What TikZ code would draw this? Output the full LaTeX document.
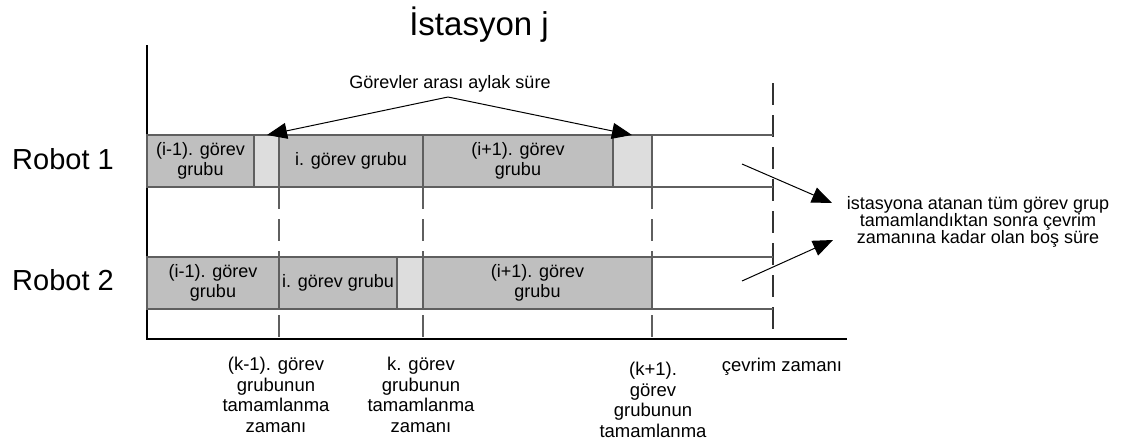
\documentclass[tikz,border=0pt]{standalone}
\usepackage{fontspec}
\setmainfont{Liberation Sans}
\usetikzlibrary{arrows.meta,positioning}

\definecolor{taskgray}{RGB}{191,191,191}
\definecolor{idlegray}{RGB}{221,221,221}
\definecolor{edgegray}{RGB}{95,95,95}

\tikzset{
  box/.style={draw=edgegray, line width=1.2pt, minimum height=52pt,
    inner sep=0pt, outer sep=0pt, align=center,
    font=\fontsize{18}{20}\selectfont},
  task/.style={box, fill=taskgray},
  slack/.style={box, fill=idlegray},
  note/.style={align=center, inner sep=0pt, font=\fontsize{18.5}{20.5}\selectfont},
  pointer/.style={-{Triangle[length=20pt,width=16pt]}, line width=1pt},
  timeline/.style={line width=1.2pt, dash pattern=on 22pt off 10pt}
}

\begin{document}
\begin{tikzpicture}[x=1pt,y=-1pt]

\useasboundingbox (0,0) rectangle (1127,445);

\coordinate(origin) at (147,339);
\coordinate(ytop) at (147,45);
\coordinate(xend) at (847,339);

\draw[line width=1.3pt] (ytop) to (origin) to (xend);

\coordinate(Ka) at (279,187);
\coordinate(Kb) at (423,187);
\coordinate(Kc) at (652,187);
\coordinate(Ca) at (773,83);

\draw[timeline, edgegray] (Ka) to (Ka |- origin);
\draw[timeline, edgegray] (Kb) to (Kb |- origin);
\draw[timeline, edgegray] (Kc) to (Kc |- origin);
\draw[timeline, black!80] (Ca) to (Ca |- origin);

\draw[edgegray, line width=1.2pt] (147,135) to (773,135);
\draw[edgegray, line width=1.2pt] (147,187) to (773,187);
\draw[edgegray, line width=1.2pt] (147,257) to (773,257);
\draw[edgegray, line width=1.2pt] (147,309) to (773,309);

\node[task, minimum width=107pt, anchor=north west] (Aa) at (147,135) {(i-1). görev\\grubu};
\node[slack, minimum width=25pt, right=0pt of Aa] (Ab) {};
\node[task, minimum width=144pt, right=0pt of Ab] (Ac) {i. görev grubu};
\node[task, minimum width=190pt, right=0pt of Ac] (Ad) {(i+1). görev\\grubu};
\node[slack, minimum width=39pt, right=0pt of Ad] (Ae) {};

\node[task, minimum width=132pt, anchor=north west] (Ba) at (147,257) {(i-1). görev\\grubu};
\node[task, minimum width=118pt, right=0pt of Ba] (Bb) {i. görev grubu};
\node[slack, minimum width=26pt, right=0pt of Bb] (Bc) {};
\node[task, minimum width=229pt, right=0pt of Bc] (Bd) {(i+1). görev\\grubu};

\node[anchor=base, inner sep=0pt, font=\fontsize{33}{36}\selectfont] (title) at (479,35) {İstasyon j};
\node[anchor=base west, inner sep=0pt, font=\fontsize{29}{32}\selectfont] (robotA) at (12,169) {Robot 1};
\node[anchor=base west, inner sep=0pt, font=\fontsize{29}{32}\selectfont] (robotB) at (12,290) {Robot 2};

\node[anchor=base, inner sep=0pt, font=\fontsize{18}{20}\selectfont] (slacknote) at (450,88) {Görevler arası aylak süre};
\coordinate(apex) at (448,97);
\coordinate(slackA) at (267,135);
\coordinate(slackB) at (632,135);
\draw[pointer] (apex) to (slackA);
\draw[pointer] (apex) to (slackB);

\node[note, font=\fontsize{18}{17}\selectfont] (endnote) at (978,222)
  {istasyona atanan tüm görev grup\\tamamlandıktan sonra çevrim\\zamanına kadar olan boş süre};
\coordinate(freeA) at (742,164);
\coordinate(freeB) at (742,281);
\coordinate(tipA) at (832,203);
\coordinate(tipB) at (833,240);
\draw[pointer] (freeA) to (tipA);
\draw[pointer] (freeB) to (tipB);

\node[note, anchor=north] (doneA) at (276,357) {(k-1). görev\\grubunun\\tamamlanma\\zamanı};
\node[note, anchor=north] (doneB) at (421,357) {k. görev\\grubunun\\tamamlanma\\zamanı};
\node[note, anchor=north] (doneC) at (653,362) {(k+1).\\görev\\grubunun\\tamamlanma};
\node[note, anchor=north] (cycle) at (782,358) {çevrim zamanı};

\end{tikzpicture}
\end{document}
